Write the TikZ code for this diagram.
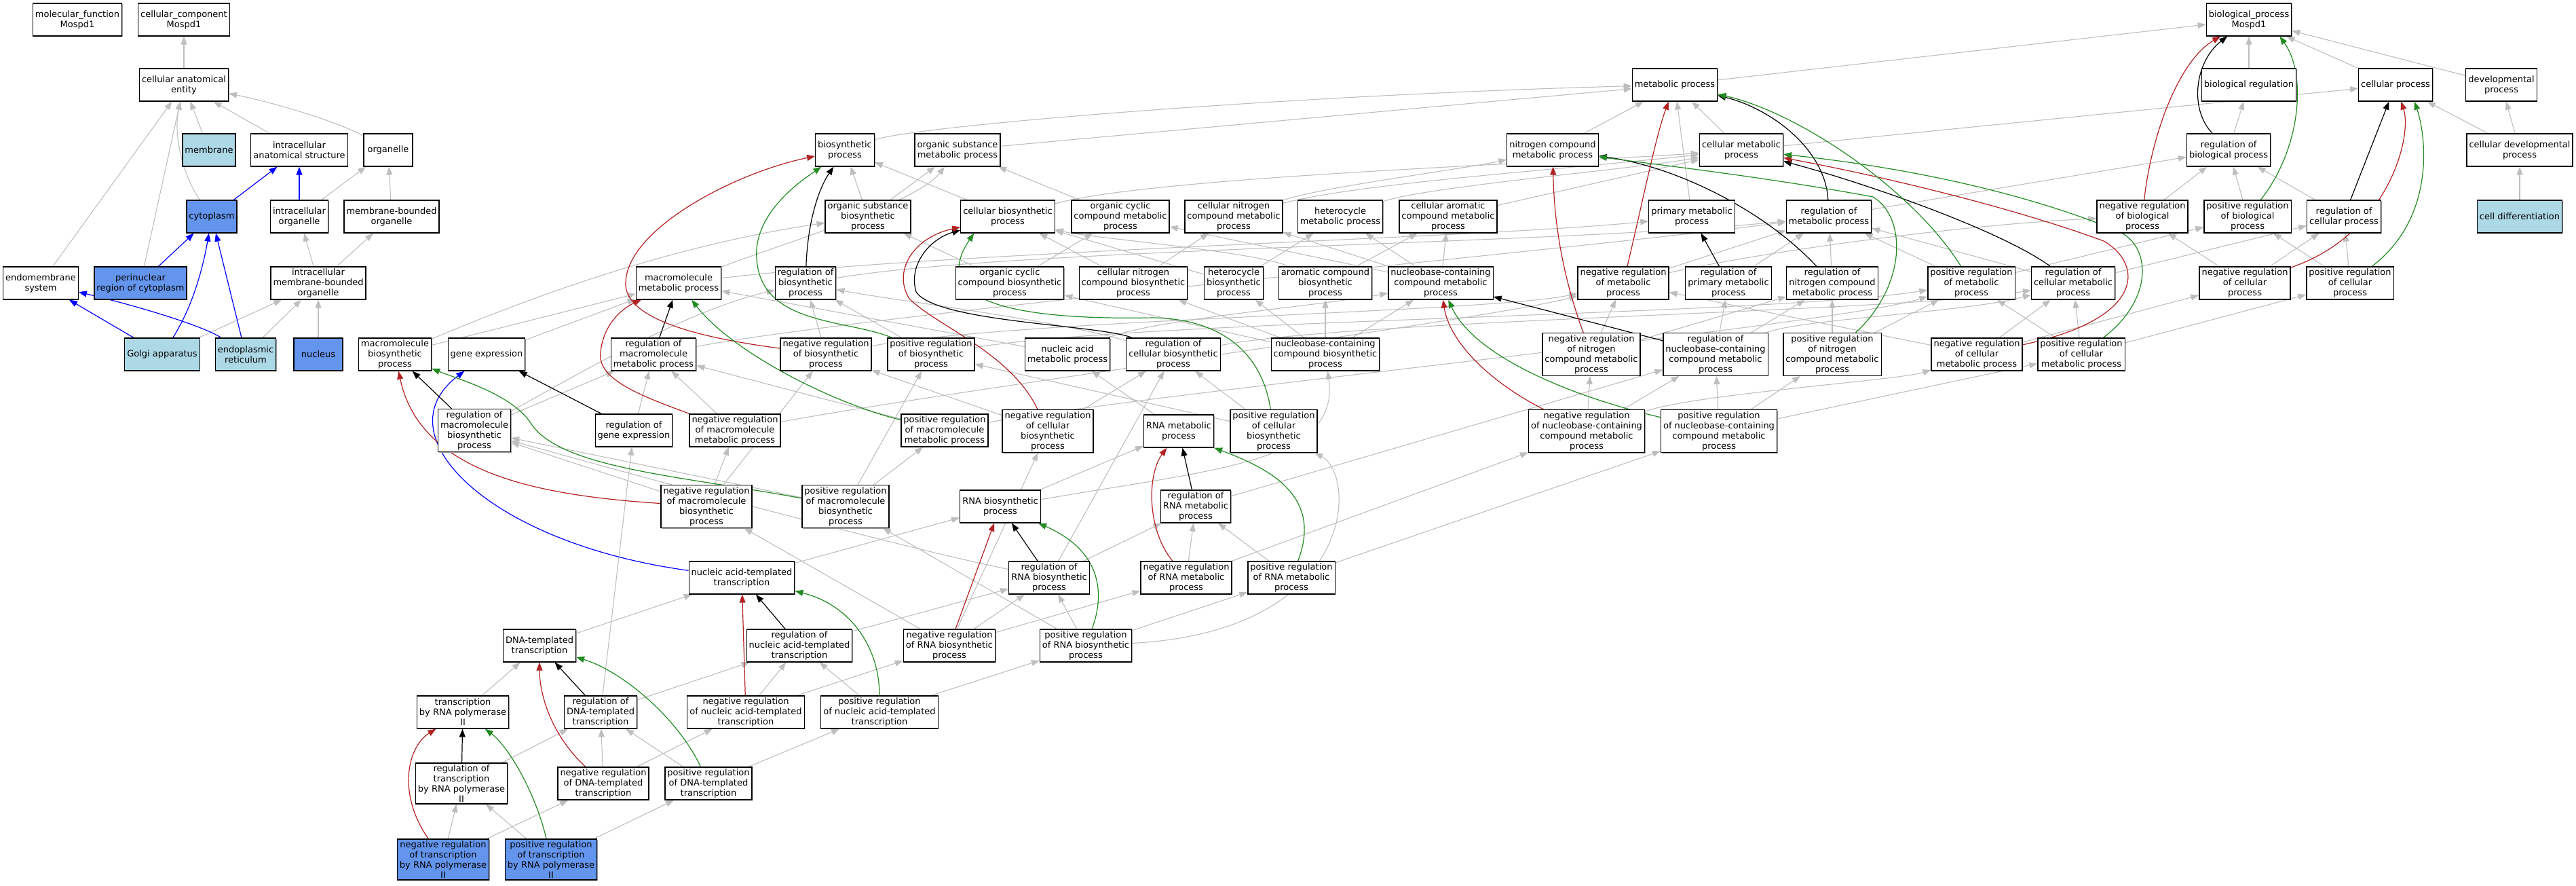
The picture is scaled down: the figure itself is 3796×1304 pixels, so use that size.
\documentclass[tikz,border=0pt]{standalone}
\usepackage{fontspec}
\setmainfont{DejaVu Sans}
\usetikzlibrary{arrows.meta}
\usetikzlibrary{backgrounds}
\usetikzlibrary{shadows}
\definecolor{edgegray}{RGB}{190,190,190}
\definecolor{negred}{RGB}{178,34,34}
\definecolor{posgreen}{RGB}{34,139,34}
\definecolor{hitblue}{RGB}{100,149,237}
\definecolor{annblue}{RGB}{173,216,230}
\tikzset{
  gobox/.style={draw, line width=1.2pt, fill=white, align=center, inner xsep=3.5pt, inner ysep=2.5pt,
    minimum width=72pt, minimum height=48pt, font=\fontsize{13}{15}\selectfont,
    drop shadow={shadow xshift=1.2pt, shadow yshift=-1.2pt, fill=black!40, opacity=1}},
  gohit/.style={gobox, fill=hitblue},
  goann/.style={gobox, fill=annblue},
  isa/.style={draw=edgegray, line width=1.1pt, -{Triangle[length=12pt,width=9pt]}},
  partof/.style={isa, draw=blue, line width=1.2pt},
  regl/.style={isa, draw=black, line width=1.2pt},
  negreg/.style={isa, draw=negred, line width=1.2pt},
  posreg/.style={isa, draw=posgreen, line width=1.2pt}
}
\begin{document}
\begin{tikzpicture}[x=1pt,y=-1pt]
          \useasboundingbox (0,0) rectangle (3796,1304);
          % cellular component
          \node[gobox] (mf) at (114,29) {molecular\_function\\Mospd1};
          \node[gobox] (cc) at (271,29) {cellular\_component\\Mospd1};
          \node[gobox] (cae) at (271,125) {cellular anatomical\\entity};
          \node[goann] (membrane) at (308,221) {membrane};
          \node[gobox] (ias) at (441,221) {intracellular\\anatomical structure};
          \node[gobox] (organelle) at (572,221) {organelle};
          \node[gohit] (cytoplasm) at (312,319) {cytoplasm};
          \node[gobox] (io) at (441,319) {intracellular\\organelle};
          \node[gobox] (mbo) at (577,319) {membrane-bounded\\organelle};
          \node[gobox] (endo) at (60,417) {endomembrane\\system};
          \node[gohit] (perinuc) at (207,417) {perinuclear\\region of cytoplasm};
          \node[gobox] (imbo) at (469,417) {intracellular\\membrane-bounded\\organelle};
          \node[goann] (golgi) at (239,522) {Golgi apparatus};
          \node[goann] (er) at (362,522) {endoplasmic\\reticulum};
          \node[gohit] (nucleus) at (469,522) {nucleus};
          % biological process, top
          \node[gobox] (bp) at (3314,29) {biological\_process\\Mospd1};
          \node[gobox] (mp) at (2468,125) {metabolic process};
          \node[gobox] (breg) at (3314,125) {biological regulation};
          \node[gobox] (cp) at (3530,125) {cellular process};
          \node[gobox] (dp) at (3686,125) {developmental\\process};
          \node[gobox] (bs) at (1245,221) {biosynthetic\\process};
          \node[gobox] (osmp) at (1411,221) {organic substance\\metabolic process};
          \node[gobox] (ncmp) at (2288,221) {nitrogen compound\\metabolic process};
          \node[gobox] (cmp) at (2566,221) {cellular metabolic\\process};
          \node[gobox] (rbp) at (3284,221) {regulation of\\biological process};
          \node[gobox] (cdp) at (3713,221) {cellular developmental\\process};
          % rank 4
          \node[gobox] (osbp) at (1279,319) {organic substance\\biosynthetic\\process};
          \node[gobox] (cbp) at (1485,319) {cellular biosynthetic\\process};
          \node[gobox] (occmp) at (1651,319) {organic cyclic\\compound metabolic\\process};
          \node[gobox] (cncmp) at (1818,319) {cellular nitrogen\\compound metabolic\\process};
          \node[gobox] (hmp) at (1975,319) {heterocycle\\metabolic process};
          \node[gobox] (camp) at (2134,319) {cellular aromatic\\compound metabolic\\process};
          \node[gobox] (pmp) at (2493,319) {primary metabolic\\process};
          \node[gobox] (rmp) at (2695,319) {regulation of\\metabolic process};
          \node[gobox] (nrbp) at (3157,319) {negative regulation\\of biological\\process};
          \node[gobox] (prbp) at (3312,319) {positive regulation\\of biological\\process};
          \node[gobox] (rcp) at (3454,319) {regulation of\\cellular process};
          \node[goann] (celldiff) at (3713,319) {cell differentiation};
          % rank 5
          \node[gobox] (mmp) at (1000,417) {macromolecule\\metabolic process};
          \node[gobox] (rbs) at (1187,417) {regulation of\\biosynthetic\\process};
          \node[gobox] (occbp) at (1488,417) {organic cyclic\\compound biosynthetic\\process};
          \node[gobox] (cncbp) at (1670,417) {cellular nitrogen\\compound biosynthetic\\process};
          \node[gobox] (hbp) at (1818,417) {heterocycle\\biosynthetic\\process};
          \node[gobox] (acbp) at (1953,417) {aromatic compound\\biosynthetic\\process};
          \node[gobox] (nbmp) at (2123,417) {nucleobase-containing\\compound metabolic\\process};
          \node[gobox] (nrmp) at (2392,417) {negative regulation\\of metabolic\\process};
          \node[gobox] (rpmp) at (2547,417) {regulation of\\primary metabolic\\process};
          \node[gobox] (rncmp) at (2700,417) {regulation of\\nitrogen compound\\metabolic process};
          \node[gobox] (prmp) at (2905,417) {positive regulation\\of metabolic\\process};
          \node[gobox] (rcmp) at (3055,417) {regulation of\\cellular metabolic\\process};
          \node[gobox] (nrcp) at (3308,417) {negative regulation\\of cellular\\process};
          \node[gobox] (prcp) at (3463,417) {positive regulation\\of cellular\\process};
          % rank 6
          \node[gobox] (mbp) at (582,522) {macromolecule\\biosynthetic\\process};
          \node[gobox] (ge) at (717,522) {gene expression};
          \node[gobox] (rmmp) at (963,522) {regulation of\\macromolecule\\metabolic process};
          \node[gobox] (nrbs) at (1217,522) {negative regulation\\of biosynthetic\\process};
          \node[gobox] (prbs) at (1372,522) {positive regulation\\of biosynthetic\\process};
          \node[gobox] (namp) at (1573,522) {nucleic acid\\metabolic process};
          \node[gobox] (rcbp) at (1729,522) {regulation of\\cellular biosynthetic\\process};
          \node[gobox] (nbbp) at (1953,522) {nucleobase-containing\\compound biosynthetic\\process};
          \node[gobox] (nrncmp) at (2345,522) {negative regulation\\of nitrogen\\compound metabolic\\process};
          \node[gobox] (rnbmp) at (2528,522) {regulation of\\nucleobase-containing\\compound metabolic\\process};
          \node[gobox] (prncmp) at (2700,522) {positive regulation\\of nitrogen\\compound metabolic\\process};
          \node[gobox] (nrcmp) at (2913,522) {negative regulation\\of cellular\\metabolic process};
          \node[gobox] (prcmp) at (3067,522) {positive regulation\\of cellular\\metabolic process};
          % rank 7
          \node[gobox] (rmbp) at (699,634) {regulation of\\macromolecule\\biosynthetic\\process};
          \node[gobox] (rge) at (934,634) {regulation of\\gene expression};
          \node[gobox] (nrmmp) at (1083,634) {negative regulation\\of macromolecule\\metabolic process};
          \node[gobox] (prmmp) at (1392,634) {positive regulation\\of macromolecule\\metabolic process};
          \node[gobox] (nrcbp) at (1544,635) {negative regulation\\of cellular\\biosynthetic\\process};
          \node[gobox] (rnamp) at (1737,635) {RNA metabolic\\process};
          \node[gobox] (prcbp) at (1877,635) {positive regulation\\of cellular\\biosynthetic\\process};
          \node[gobox] (nrnbmp) at (2338,635) {negative regulation\\of nucleobase-containing\\compound metabolic\\process};
          \node[gobox] (prnbmp) at (2533,635) {positive regulation\\of nucleobase-containing\\compound metabolic\\process};
          % rank 8
          \node[gobox] (nrmbp) at (1041,746) {negative regulation\\of macromolecule\\biosynthetic\\process};
          \node[gobox] (prmbp) at (1246,746) {positive regulation\\of macromolecule\\biosynthetic\\process};
          \node[gobox] (rnabp) at (1474,746) {RNA biosynthetic\\process};
          \node[gobox] (rrnamp) at (1762,746) {regulation of\\RNA metabolic\\process};
          % rank 9
          \node[gobox] (nat) at (1093,851) {nucleic acid-templated\\transcription};
          \node[gobox] (rrnabp) at (1546,851) {regulation of\\RNA biosynthetic\\process};
          \node[gobox] (nrrnamp) at (1748,851) {negative regulation\\of RNA metabolic\\process};
          \node[gobox] (prrnamp) at (1903,851) {positive regulation\\of RNA metabolic\\process};
          % rank 10
          \node[gobox] (dt) at (795,951) {DNA-templated\\transcription};
          \node[gobox] (rnat) at (1178,951) {regulation of\\nucleic acid-templated\\transcription};
          \node[gobox] (nrrnabp) at (1399,951) {negative regulation\\of RNA biosynthetic\\process};
          \node[gobox] (prrnabp) at (1600,951) {positive regulation\\of RNA biosynthetic\\process};
          % rank 11
          \node[gobox] (trp) at (682,1049) {transcription\\by RNA polymerase\\II};
          \node[gobox] (rdt) at (885,1049) {regulation of\\DNA-templated\\transcription};
          \node[gobox] (nrnat) at (1099,1049) {negative regulation\\of nucleic acid-templated\\transcription};
          \node[gobox] (prnat) at (1296,1049) {positive regulation\\of nucleic acid-templated\\transcription};
          % rank 12
          \node[gobox] (rtrp) at (680,1154) {regulation of\\transcription\\by RNA polymerase\\II};
          \node[gobox] (nrdt) at (889,1154) {negative regulation\\of DNA-templated\\transcription};
          \node[gobox] (prdt) at (1044,1154) {positive regulation\\of DNA-templated\\transcription};
          % rank 13
          \node[gohit] (nrtrp) at (653,1266) {negative regulation\\of transcription\\by RNA polymerase\\II};
          \node[gohit] (prtrp) at (812,1266) {positive regulation\\of transcription\\by RNA polymerase\\II};

          \begin{pgfonlayer}{background}
          % is_a lines, cellular component
          \draw[isa] (cae) -- (cc);
          \draw[isa] (membrane) -- (cae);
          \draw[isa] (ias) -- (cae);
          \draw[isa] (organelle) .. controls (500,180) and (400,150) .. (cae);
          \draw[isa] (cytoplasm) .. controls (270,260) and (255,200) .. (cae);
          \draw[isa] (perinuc) -- (cae);
          \draw[isa] (endo) -- (cae);
          \draw[isa] (io) -- (organelle);
          \draw[isa] (mbo) -- (organelle);
          \draw[isa] (imbo) -- (io);
          \draw[isa] (imbo) -- (mbo);
          \draw[isa] (golgi) -- (imbo);
          \draw[isa] (er) -- (imbo);
          \draw[isa] (nucleus) -- (imbo);
          % is_a lines, top of biological process
          \draw[isa] (mp) -- (bp);
          \draw[isa] (breg) -- (bp);
          \draw[isa] (cp) -- (bp);
          \draw[isa] (dp) -- (bp);
          \draw[isa] (rbp) -- (breg);
          \draw[isa] (cdp) -- (cp);
          \draw[isa] (cdp) -- (dp);
          \draw[isa] (celldiff) -- (cdp);
          \draw[isa] (cmp) -- (cp);
          \draw[isa] (nrbp) -- (rbp);
          \draw[isa] (prbp) -- (rbp);
          \draw[isa] (rcp) -- (rbp);
          \draw[isa] (rmp) -- (rbp);
          \draw[isa] (nrcp) -- (rcp);
          \draw[isa] (prcp) -- (rcp);
          \draw[isa] (nrcp) -- (nrbp);
          \draw[isa] (prcp) -- (prbp);
          \draw[isa] (rcmp) -- (rcp);
          \draw[isa] (nrmp) .. controls (2600,370) and (2900,330) .. (nrbp);
          \draw[isa] (prmp) -- (prbp);
          \draw[isa] (nrcmp) -- (nrcp);
          \draw[isa] (prcmp) -- (prcp);
          % is_a lines, metabolic process
          \draw[isa] (ncmp) -- (mp);
          \draw[isa] (cmp) -- (mp);
          \draw[isa] (pmp) -- (mp);
          \draw[isa] (osmp) -- (mp);
          \draw[isa] (bs) .. controls (1350,185) and (1900,140) .. (mp);
          \draw[isa] (osbp) -- (bs);
          \draw[isa] (osbp) -- (osmp);
          \draw[isa] (cbp) -- (bs);
          \draw[isa] (cbp) .. controls (1700,260) and (2300,240) .. (cmp);
          \draw[isa] (occmp) -- (osmp);
          \draw[isa] (cncmp) .. controls (1950,275) and (2150,250) .. (ncmp);
          \draw[isa] (cncmp) .. controls (2000,270) and (2300,250) .. (cmp);
          \draw[isa] (hmp) .. controls (2100,275) and (2400,250) .. (cmp);
          \draw[isa] (camp) -- (cmp);
          \draw[isa] (mmp) .. controls (1150,360) and (1350,300) .. (osmp);
          \draw[isa] (mmp) .. controls (1400,370) and (2200,350) .. (pmp);
          \draw[isa] (occbp) -- (occmp);
          \draw[isa] (occbp) -- (osbp);
          \draw[isa] (cncbp) -- (cncmp);
          \draw[isa] (cncbp) -- (cbp);
          \draw[isa] (hbp) -- (hmp);
          \draw[isa] (hbp) -- (cbp);
          \draw[isa] (acbp) -- (camp);
          \draw[isa] (acbp) .. controls (1850,370) and (1600,350) .. (cbp);
          \draw[isa] (nbmp) -- (hmp);
          \draw[isa] (nbmp) -- (camp);
          \draw[isa] (nbmp) -- (cncmp);
          \draw[isa] (nbmp) -- (occmp);
          \draw[isa] (mbp) -- (mmp);
          \draw[isa] (mbp) .. controls (800,430) and (1000,360) .. (osbp);
          \draw[isa] (ge) -- (mmp);
          \draw[isa] (namp) .. controls (1700,470) and (1950,450) .. (nbmp);
          \draw[isa] (namp) -- (mmp);
          \draw[isa] (nbbp) -- (nbmp);
          \draw[isa] (nbbp) -- (acbp);
          \draw[isa] (nbbp) -- (hbp);
          \draw[isa] (nbbp) -- (cncbp);
          \draw[isa] (nbbp) -- (occbp);
          \draw[isa] (rnamp) -- (namp);
          \draw[isa] (rnabp) -- (rnamp);
          \draw[isa] (rnabp) .. controls (1800,690) and (1975,680) .. (nbbp);
          \draw[isa] (nat) -- (rnabp);
          \draw[isa] (dt) -- (nat);
          \draw[isa] (trp) -- (dt);
          % is_a lines, regulation terms
          \draw[isa] (rbs) .. controls (1500,365) and (2300,360) .. (rmp);
          \draw[isa] (rmmp) .. controls (1300,460) and (2300,370) .. (rmp);
          \draw[isa] (rpmp) -- (rmp);
          \draw[isa] (rncmp) -- (rmp);
          \draw[isa] (nrmp) -- (rmp);
          \draw[isa] (prmp) -- (rmp);
          \draw[isa] (rcmp) -- (rmp);
          \draw[isa] (rmbp) .. controls (820,570) and (1000,460) .. (rbs);
          \draw[isa] (rmbp) -- (rmmp);
          \draw[isa] (rge) -- (rmmp);
          \draw[isa] (nrmmp) -- (rmmp);
          \draw[isa] (prmmp) -- (rmmp);
          \draw[isa] (rcbp) .. controls (1550,470) and (1300,440) .. (rbs);
          \draw[isa] (rcbp) .. controls (2000,470) and (2800,460) .. (rcmp);
          \draw[isa] (nrbs) -- (rbs);
          \draw[isa] (prbs) -- (rbs);
          \draw[isa] (nrbs) .. controls (1500,470) and (2200,460) .. (nrmp);
          \draw[isa] (prbs) .. controls (1700,470) and (2600,465) .. (prmp);
          \draw[isa] (nrmmp) .. controls (1400,575) and (2200,470) .. (nrmp);
          \draw[isa] (prmmp) .. controls (1700,578) and (2700,480) .. (prmp);
          \draw[isa] (rnbmp) .. controls (2650,470) and (2900,460) .. (rcmp);
          \draw[isa] (rnbmp) -- (rncmp);
          \draw[isa] (rnbmp) -- (rpmp);
          \draw[isa] (nrncmp) -- (rncmp);
          \draw[isa] (nrncmp) -- (nrmp);
          \draw[isa] (prncmp) -- (rncmp);
          \draw[isa] (prncmp) -- (prmp);
          \draw[isa] (nrcmp) -- (nrmp);
          \draw[isa] (nrcmp) -- (rcmp);
          \draw[isa] (prcmp) -- (rcmp);
          \draw[isa] (prcmp) -- (prmp);
          \draw[isa] (nrnbmp) -- (rnbmp);
          \draw[isa] (nrnbmp) -- (nrncmp);
          \draw[isa] (nrnbmp) .. controls (2500,580) and (2800,560) .. (nrcmp);
          \draw[isa] (prnbmp) -- (rnbmp);
          \draw[isa] (prnbmp) -- (prncmp);
          \draw[isa] (prnbmp) -- (prcmp);
          \draw[isa] (nrcbp) -- (rcbp);
          \draw[isa] (nrcbp) -- (nrbs);
          \draw[isa] (prcbp) -- (rcbp);
          \draw[isa] (prcbp) -- (prbs);
          \draw[isa] (nrmbp) -- (rmbp);
          \draw[isa] (nrmbp) -- (nrbs);
          \draw[isa] (nrmbp) -- (nrmmp);
          \draw[isa] (prmbp) -- (rmbp);
          \draw[isa] (prmbp) -- (prbs);
          \draw[isa] (prmbp) -- (prmmp);
          \draw[isa] (rrnamp) -- (rnbmp);
          \draw[isa] (nrrnamp) -- (rrnamp);
          \draw[isa] (prrnamp) -- (rrnamp);
          \draw[isa] (nrrnamp) -- (nrnbmp);
          \draw[isa] (prrnamp) -- (prnbmp);
          \draw[isa] (rrnabp) -- (rrnamp);
          \draw[isa] (rrnabp) -- (rcbp);
          \draw[isa] (rrnabp) .. controls (1300,800) and (900,690) .. (rmbp);
          \draw[isa] (nrrnabp) -- (rrnabp);
          \draw[isa] (nrrnabp) -- (nrrnamp);
          \draw[isa] (nrrnabp) -- (nrcbp);
          \draw[isa] (nrrnabp) -- (nrmbp);
          \draw[isa] (prrnabp) -- (rrnabp);
          \draw[isa] (prrnabp) -- (prrnamp);
          \draw[isa] (prrnabp) .. controls (2000,930) and (2000,700) .. (prcbp);
          \draw[isa] (prrnabp) -- (prmbp);
          \draw[isa] (rnat) -- (rrnabp);
          \draw[isa] (nrnat) -- (rnat);
          \draw[isa] (nrnat) -- (nrrnabp);
          \draw[isa] (prnat) -- (rnat);
          \draw[isa] (prnat) -- (prrnabp);
          \draw[isa] (rdt) -- (rnat);
          \draw[isa] (rdt) -- (rge);
          \draw[isa] (nrdt) -- (rdt);
          \draw[isa] (nrdt) -- (nrnat);
          \draw[isa] (prdt) -- (rdt);
          \draw[isa] (prdt) -- (prnat);
          \draw[isa] (rtrp) -- (rdt);
          \draw[isa] (nrtrp) -- (rtrp);
          \draw[isa] (nrtrp) -- (nrdt);
          \draw[isa] (prtrp) -- (rtrp);
          \draw[isa] (prtrp) -- (prdt);
          % part_of lines
          \draw[partof] (cytoplasm) -- (ias);
          \draw[partof] (io) -- (ias);
          \draw[partof] (perinuc) -- (cytoplasm);
          \draw[partof] (golgi) .. controls (285,450) and (300,390) .. (cytoplasm);
          \draw[partof] (er) -- (cytoplasm);
          \draw[partof] (golgi) -- (endo);
          \draw[partof] (er) .. controls (300,480) and (200,450) .. (endo);
          \draw[partof] (nat) .. controls (720,800) and (560,640) .. (ge);
          % regulates lines
          \draw[regl] (rbp) .. controls (3225,160) and (3235,90) .. (bp);
          \draw[regl] (rcp) -- (cp);
          \draw[regl] (rmp) .. controls (2690,220) and (2610,160) .. (mp);
          \draw[regl] (rncmp) .. controls (2600,310) and (2470,245) .. (ncmp);
          \draw[regl] (rcmp) .. controls (2950,340) and (2750,270) .. (cmp);
          \draw[regl] (rpmp) -- (pmp);
          \draw[regl] (rnbmp) -- (nbmp);
          \draw[regl] (rbs) .. controls (1190,330) and (1205,280) .. (bs);
          \draw[regl] (rcbp) .. controls (1620,478) and (1380,475) .. (1350,430) .. controls (1338,390) and (1370,352) .. (cbp);
          \draw[regl] (rmmp) -- (mmp);
          \draw[regl] (rmbp) -- (mbp);
          \draw[regl] (rge) -- (ge);
          \draw[regl] (rrnamp) -- (rnamp);
          \draw[regl] (rrnabp) -- (rnabp);
          \draw[regl] (rnat) -- (nat);
          \draw[regl] (rdt) -- (dt);
          \draw[regl] (rtrp) -- (trp);
          % negatively regulates lines
          \draw[negreg] (nrbp) .. controls (3170,200) and (3210,90) .. (bp);
          \draw[negreg] (nrcp) .. controls (3520,345) and (3555,200) .. (cp);
          \draw[negreg] (nrmp) .. controls (2420,300) and (2440,200) .. (mp);
          \draw[negreg] (nrncmp) .. controls (2300,400) and (2290,320) .. (ncmp);
          \draw[negreg] (nrcmp) .. controls (3160,470) and (3160,390) .. (3100,355) .. controls (2950,300) and (2750,255) .. (cmp);
          \draw[negreg] (nrnbmp) .. controls (2190,560) and (2135,500) .. (nbmp);
          \draw[negreg] (nrbs) .. controls (1050,500) and (925,475) .. (922,420) .. controls (919,340) and (1080,255) .. (bs);
          \draw[negreg] (nrmmp) .. controls (950,585) and (880,560) .. (885,520) .. controls (888,480) and (915,455) .. (mmp);
          \draw[negreg] (nrcbp) .. controls (1490,520) and (1380,480) .. (1340,440) .. controls (1315,400) and (1345,350) .. (cbp);
          \draw[negreg] (nrmbp) .. controls (800,730) and (620,700) .. (mbp);
          \draw[negreg] (nrrnamp) .. controls (1690,780) and (1690,700) .. (rnamp);
          \draw[negreg] (nrrnabp) -- (rnabp);
          \draw[negreg] (nrnat) -- (nat);
          \draw[negreg] (nrdt) .. controls (810,1080) and (795,1020) .. (dt);
          \draw[negreg] (nrtrp) .. controls (585,1170) and (600,1100) .. (trp);
          % positively regulates lines
          \draw[posreg] (prbp) .. controls (3390,220) and (3400,110) .. ([xshift=-18pt]bp.south east);
          \draw[posreg] (prcp) .. controls (3590,320) and (3575,200) .. ([xshift=-27pt]cp.south east);
          \draw[posreg] (prmp) .. controls (2820,280) and (2650,165) .. (mp);
          \draw[posreg] (prncmp) .. controls (2810,420) and (2810,320) .. (2760,290) .. controls (2600,260) and (2420,240) .. (ncmp);
          \draw[posreg] (prcmp) .. controls (3175,440) and (3170,360) .. (3120,340) .. controls (2950,270) and (2750,240) .. (cmp);
          \draw[posreg] (prnbmp) .. controls (2300,580) and (2170,520) .. (nbmp);
          \draw[posreg] (prbs) .. controls (1250,470) and (1120,480) .. (1115,380) .. controls (1110,310) and (1190,260) .. (bs);
          \draw[posreg] (prmmp) .. controls (1230,595) and (1080,520) .. (mmp);
          \draw[posreg] (prcbp) .. controls (1860,520) and (1800,470) .. (1700,468) .. controls (1480,472) and (1370,440) .. ([xshift=20pt]cbp.south west);
          \draw[posreg] (prmbp) .. controls (1000,700) and (820,690) .. (780,620) .. controls (750,580) and (680,560) .. (mbp);
          \draw[posreg] (prrnamp) .. controls (1950,730) and (1870,690) .. (rnamp.south east);
          \draw[posreg] (prrnabp) .. controls (1630,870) and (1620,810) .. (rnabp);
          \draw[posreg] (prnat) .. controls (1296,950) and (1250,890) .. (nat);
          \draw[posreg] (prdt) .. controls (1000,1060) and (920,990) .. (dt);
          \draw[posreg] (prtrp) .. controls (790,1170) and (750,1100) .. (trp);
          \end{pgfonlayer}
        \end{tikzpicture}
\end{document}
